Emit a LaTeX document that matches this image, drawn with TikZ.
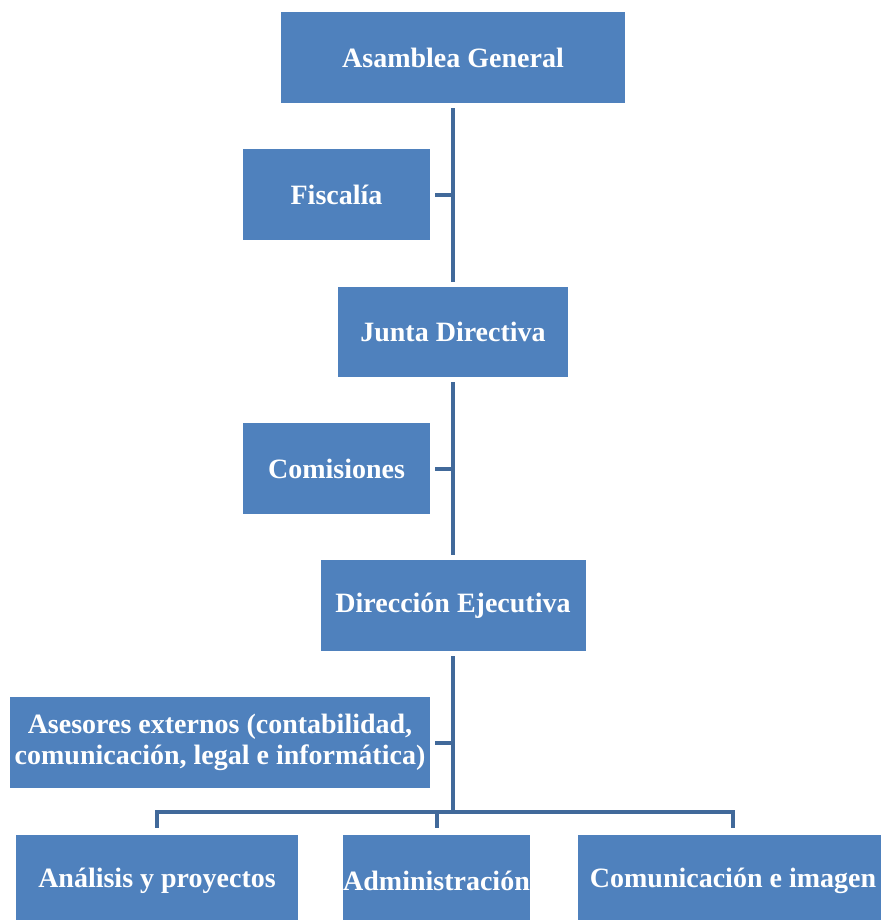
\documentclass[tikz,border=0pt]{standalone}
\usepackage{fontspec}
\setmainfont{Liberation Serif}
\definecolor{boxblue}{HTML}{4F81BD}
\definecolor{lineblue}{HTML}{41699A}
\begin{document}
\begin{tikzpicture}[x=1pt,y=-1pt,
  box/.style={draw=none, fill=boxblue, text=white, font=\fontsize{28}{31}\selectfont\bfseries, align=center, inner sep=0pt},
  conn/.style={draw=lineblue, line width=4pt}]
\useasboundingbox (0,0) rectangle (880,920);
\node[box, minimum width=344pt, minimum height=91pt] (ag) at (453,57.5) {Asamblea General};
\node[box, minimum width=187pt, minimum height=91pt] (fis) at (336.5,194.5) {Fiscalía};
\node[box, minimum width=230pt, minimum height=90pt] (jd) at (453,332) {Junta Directiva};
\node[box, minimum width=187pt, minimum height=91pt] (com) at (336.5,468.5) {Comisiones};
\node[box, minimum width=265pt, minimum height=91pt] (de) at (453,605.5) {Dirección Ejecutiva};
\node[box, minimum width=420pt, minimum height=91pt] (as) at (220,742.5) {Asesores externos (contabilidad,\\comunicación, legal e informática)};
\node[box, minimum width=282pt, minimum height=91pt] (an) at (157,880.5) {Análisis y proyectos};
\node[box, minimum width=187pt, minimum height=91pt] (adm) at (436.5,880.5) {Administración};
\node[box, minimum width=310pt, minimum height=91pt] (ci) at (733,880.5) {Comunicación e imagen};
\coordinate (bus) at (453,812);
\draw[conn] ([yshift=-5pt]ag.south) -- ([yshift=5pt]jd.north);
\draw[conn] ([xshift=5pt]fis.east) -- (fis.east -| ag.south);
\draw[conn] ([yshift=-5pt]jd.south) -- ([yshift=5pt]de.north);
\draw[conn] ([xshift=5pt]com.east) -- (com.east -| jd.south);
\draw[conn] ([yshift=-5pt]de.south) -- (bus);
\draw[conn] ([xshift=5pt]as.east) -- (as.east -| de.south);
\draw[conn] ([yshift=7pt]an.north) -- (an.north |- bus) -- (ci.north |- bus) -- ([yshift=7pt]ci.north);
\draw[conn] (adm.north |- bus) -- ([yshift=7pt]adm.north);
\end{tikzpicture}
\end{document}
